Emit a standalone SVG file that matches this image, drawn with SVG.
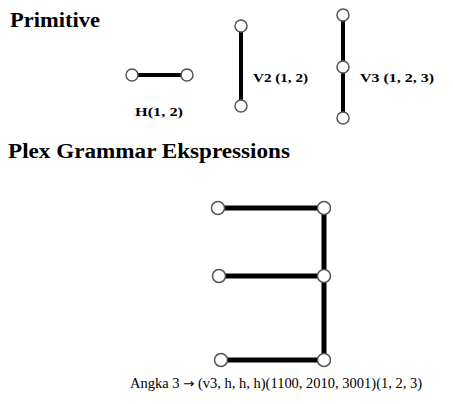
<svg xmlns="http://www.w3.org/2000/svg" width="453" height="404" viewBox="0 0 453 404">
<style>
.t{font-family:"Liberation Serif","DejaVu Serif",serif;fill:#000}
.h{font-size:20px;font-weight:bold}
.l{font-size:13px;font-weight:bold}
.e{font-size:14px}
.ar{font-family:"DejaVu Sans",sans-serif;font-size:13px}
.ln{stroke:#000;stroke-width:4;fill:none}
.lb{stroke:#000;stroke-width:5;fill:none}
.n{fill:#fff;stroke:#555;stroke-width:1.5}
</style>
<rect width="453" height="404" fill="#fff"/>
<text class="t h" x="10" y="27" textLength="90" lengthAdjust="spacingAndGlyphs">Primitive</text>
<text class="t h" x="8" y="158" textLength="282" lengthAdjust="spacingAndGlyphs">Plex Grammar Ekspressions</text>
<g id="connectors">
<line class="ln" x1="132" y1="75" x2="187" y2="75"/>
<line class="ln" x1="241" y1="26" x2="241" y2="106"/>
<line class="ln" x1="343" y1="15" x2="343" y2="118"/>
<line class="lb" x1="218" y1="208" x2="324" y2="208"/>
<line class="lb" x1="219" y1="276" x2="324" y2="276"/>
<line class="lb" x1="221" y1="360" x2="324" y2="360"/>
<line class="lb" x1="324" y1="208" x2="324" y2="360"/>
</g>
<g id="H">
<circle class="n" cx="132" cy="75" r="6"/>
<circle class="n" cx="187" cy="75" r="6"/>
<text class="t l" x="135" y="116" textLength="48" lengthAdjust="spacingAndGlyphs">H(1, 2)</text>
</g>
<g id="V2">
<circle class="n" cx="241" cy="26" r="6"/>
<circle class="n" cx="241" cy="106" r="6"/>
<text class="t l" x="253" y="82" textLength="55" lengthAdjust="spacingAndGlyphs">V2 (1, 2)</text>
</g>
<g id="V3">
<circle class="n" cx="343" cy="15" r="6"/>
<circle class="n" cx="343" cy="67" r="6"/>
<circle class="n" cx="343" cy="118" r="6"/>
<text class="t l" x="360" y="82" textLength="74" lengthAdjust="spacingAndGlyphs">V3 (1, 2, 3)</text>
</g>
<g id="angka3">
<circle class="n" cx="218" cy="208" r="6.5"/>
<circle class="n" cx="324" cy="208" r="6.5"/>
<circle class="n" cx="219" cy="276" r="6.5"/>
<circle class="n" cx="324" cy="276" r="6.5"/>
<circle class="n" cx="221" cy="360" r="6.5"/>
<circle class="n" cx="324" cy="360" r="6.5"/>
<text class="t e" x="130" y="388" textLength="292" lengthAdjust="spacingAndGlyphs">Angka 3 <tspan class="ar">→</tspan> (v3, h, h, h)(1100, 2010, 3001)(1, 2, 3)</text>
</g>
</svg>
